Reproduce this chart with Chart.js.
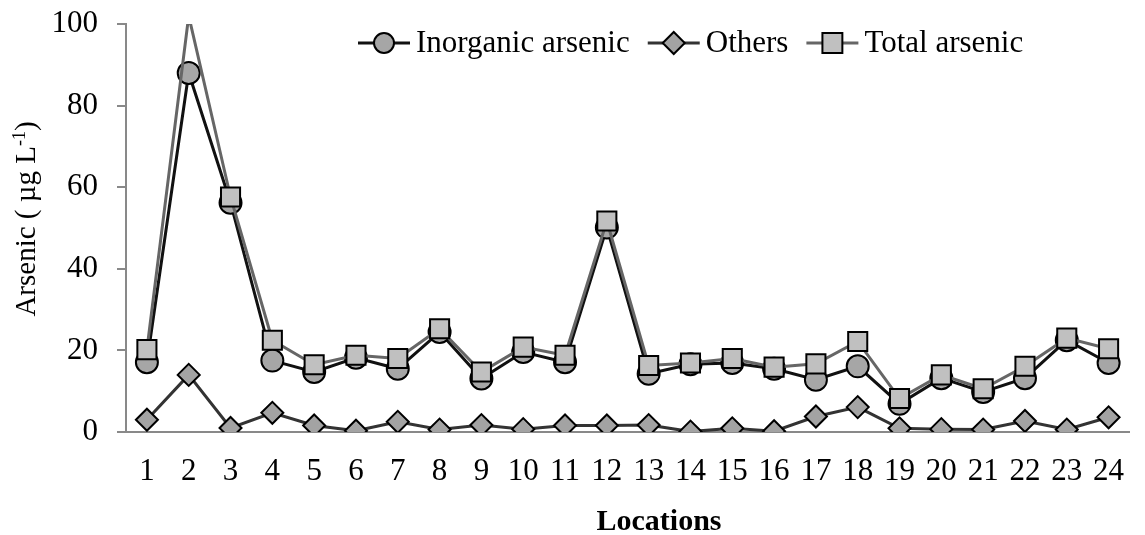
<!DOCTYPE html>
<html>
<head>
<meta charset="utf-8">
<script src="https://cdn.jsdelivr.net/npm/chart.js@4.4.0/dist/chart.umd.min.js"></script>
<style>
  html, body { margin: 0; padding: 0; background: #fff; }
  #wrap { width: 1145px; height: 535px; position: relative; }
</style>
</head>
<body>
<div id="wrap"><canvas id="c" width="1145" height="535"></canvas></div>
<script>
const categories = ['1','2','3','4','5','6','7','8','9','10','11','12','13','14','15','16','17','18','19','20','21','22','23','24'];
const inorganicArsenic = [17.1, 88.0, 56.2, 17.5, 14.7, 18.2, 15.5, 24.5, 13.1, 19.6, 17.1, 50.1, 14.3, 16.6, 16.9, 15.5, 12.8, 16.1, 6.9, 13.2, 9.8, 13.2, 22.5, 16.9];
const others = [3.0, 14.0, 1.0, 4.7, 1.6, 0.3, 2.5, 0.6, 1.7, 0.7, 1.6, 1.6, 1.7, 0.1, 0.9, 0.2, 3.8, 6.1, 0.9, 0.7, 0.6, 2.7, 0.6, 3.6];
const totalArsenic = [20.2, 102.0, 57.6, 22.5, 16.5, 18.8, 18.0, 25.3, 14.7, 20.8, 18.8, 51.7, 16.3, 16.9, 18.0, 15.9, 16.7, 22.2, 8.2, 14.0, 10.6, 16.1, 23.0, 20.4];
const yTicks = [0, 20, 40, 60, 80, 100];
const Y_MAX = 100;

const FONT = '"Liberation Serif", "Times New Roman", serif';
const AXIS_GRAY = '#898989';

function drawMarker(ctx, style, x, y, r, fill, stroke, lw) {
  ctx.save();
  ctx.beginPath();
  if (style === 'circle') {
    ctx.arc(x, y, r, 0, Math.PI * 2);
  } else if (style === 'rectRot') {
    ctx.moveTo(x - r, y); ctx.lineTo(x, y - r); ctx.lineTo(x + r, y); ctx.lineTo(x, y + r); ctx.closePath();
  } else {
    const s = Math.SQRT1_2 * r;
    ctx.rect(x - s, y - s, 2 * s, 2 * s);
  }
  ctx.fillStyle = fill; ctx.fill();
  ctx.lineWidth = lw; ctx.strokeStyle = stroke; ctx.stroke();
  ctx.restore();
}

const legendPlugin = {
  id: 'customLegend',
  afterDraw(chart) {
    const ctx = chart.ctx;
    let x = 358;
    const y = 43;
    ctx.save();
    ctx.font = '31px ' + FONT;
    ctx.textBaseline = 'middle';
    ctx.fillStyle = '#000';
    chart.data.datasets.forEach(ds => {
      ctx.beginPath();
      ctx.moveTo(x, y); ctx.lineTo(x + 52, y);
      ctx.strokeStyle = ds.borderColor; ctx.lineWidth = 3; ctx.stroke();
      const r = ds.pointStyle === 'rect' ? 14.1 : (ds.pointStyle === 'circle' ? 10 : 11);
      drawMarker(ctx, ds.pointStyle, x + 26, y, r, ds.pointBackgroundColor, '#000', 2);
      ctx.fillStyle = '#000';
      ctx.fillText(ds.label, x + 58, y + 1);
      x = x + 58 + ctx.measureText(ds.label).width + 18;
    });
    ctx.restore();
  }
};

const titlesPlugin = {
  id: 'axisTitles',
  afterDraw(chart) {
    const ctx = chart.ctx;
    ctx.save();
    // x title
    ctx.font = 'bold 30px ' + FONT;
    ctx.textAlign = 'center';
    ctx.textBaseline = 'middle';
    ctx.fillStyle = '#000';
    ctx.fillText('Locations', 659, 522);
    // y title with superscript
    ctx.translate(25, 219);
    ctx.rotate(-Math.PI / 2);
    const main = 'Arsenic ( \u00b5g L';
    const sup = '-1';
    const end = ')';
    const big = '29px ' + FONT, small = '18px ' + FONT;
    ctx.font = big; const w1 = ctx.measureText(main).width; const w3 = ctx.measureText(end).width;
    ctx.font = small; const w2 = ctx.measureText(sup).width;
    const total = w1 + w2 + w3;
    ctx.textAlign = 'left';
    ctx.textBaseline = 'alphabetic';
    let sx = -total / 2;
    const base = 10;
    ctx.font = big; ctx.fillText(main, sx, base); sx += w1;
    ctx.font = small; ctx.fillText(sup, sx, base - 10); sx += w2;
    ctx.font = big; ctx.fillText(end, sx, base);
    ctx.restore();
  }
};

new Chart(document.getElementById('c'), {
  type: 'line',
  data: {
    labels: categories,
    datasets: [
      {
        label: 'Inorganic arsenic', data: inorganicArsenic, order: 2,
        borderColor: '#111111', borderWidth: 3,
        pointStyle: 'circle', pointRadius: 11, pointHoverRadius: 11,
        pointBackgroundColor: '#a6a6a6', pointBorderColor: '#000', pointBorderWidth: 2
      },
      {
        label: 'Others', data: others, order: 3,
        borderColor: '#333333', borderWidth: 3,
        pointStyle: 'rectRot', pointRadius: 11, pointHoverRadius: 11,
        pointBackgroundColor: '#a3a3a3', pointBorderColor: '#000', pointBorderWidth: 2
      },
      {
        label: 'Total arsenic', data: totalArsenic, order: 1,
        borderColor: '#666666', borderWidth: 3,
        pointStyle: 'rect',
        pointRadius: c => (c.raw > Y_MAX ? 0 : 13.5),
        pointHoverRadius: c => (c.raw > Y_MAX ? 0 : 13.5),
        pointBackgroundColor: '#c0c0c0', pointBorderColor: '#000', pointBorderWidth: 2,
        clip: { top: 0, left: false, right: false, bottom: false }
      }
    ]
  },
  options: {
    responsive: false,
    animation: false,
    events: [],
    layout: { padding: { top: 24, right: 1, left: 0, bottom: 0 } },
    plugins: { legend: { display: false }, tooltip: { enabled: false }, title: { display: false } },
    scales: {
      x: {
        offset: true,
        grid: { display: false },
        border: { display: true, color: AXIS_GRAY, width: 2 },
        ticks: { color: '#000', font: { family: FONT, size: 31 }, padding: 13, maxRotation: 0, autoSkip: false },
        afterFit(scale) { scale.height = 103; scale.paddingLeft = 0; scale.paddingRight = 0; }
      },
      y: {
        min: 0, max: Y_MAX,
        afterBuildTicks(scale) { scale.ticks = yTicks.map(v => ({ value: v })); },
        grid: { display: true, drawOnChartArea: false, drawTicks: true, tickLength: 9, color: AXIS_GRAY, lineWidth: 2 },
        border: { display: true, color: AXIS_GRAY, width: 2 },
        ticks: { color: '#000', font: { family: FONT, size: 31 }, padding: 19 },
        afterFit(scale) { scale.width = 126; scale.paddingTop = 0; scale.paddingBottom = 0; }
      }
    }
  },
  plugins: [legendPlugin, titlesPlugin]
});
</script>
</body>
</html>
